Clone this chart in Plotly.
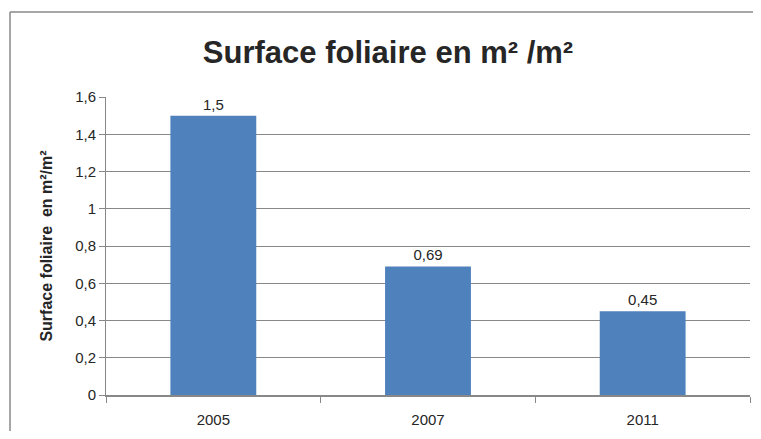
import plotly.graph_objects as go

categories = ["2005", "2007", "2011"]
values = [1.5, 0.69, 0.45]
labels = [str(v).replace(".", ",") for v in values]

# page has 8px body margin; figure sized to fit the 761x439 window
W, H = 745, 423
OFF = 8
L, R, T, B = 106 - OFF, W + OFF - 750, 97 - OFF, H + OFF - 395
pw, ph = W - L - R, H - T - B

fig = go.Figure(go.Bar(
    x=categories, y=values, text=labels, textposition="outside",
    textfont=dict(family="Liberation Sans, Arial", size=15, color="#262626"),
    marker=dict(color="#4F81BD", line=dict(width=0)),
    cliponaxis=False,
))

fig.update_layout(
    width=W, height=H,
    margin=dict(l=L, r=R, t=T, b=B),
    paper_bgcolor="white", plot_bgcolor="white",
    separators=", ",
    bargap=0.6,
    showlegend=False,
    title=dict(text="<b>Surface foliaire en m² /m²</b>", x=(388 - OFF) / W, xanchor="center",
               y=1 - (52 - OFF) / H, yanchor="middle",
               font=dict(family="Liberation Sans Narrow, Arial Narrow, Liberation Sans", size=31, color="#262626")),
    font=dict(family="Liberation Sans, Arial", size=14, color="#404040"),
)

fig.update_yaxes(
    range=[0, 1.6], dtick=0.2, tick0=0,
    showgrid=True, gridcolor="#888888", gridwidth=1,
    showline=True, linecolor="#888888", linewidth=1,
    ticks="outside", ticklen=6, tickcolor="#888888",
    zeroline=False,
    tickfont=dict(size=15, color="#262626"),
    title=dict(text="<b>Surface foliaire  en m²/m²</b>", standoff=18,
               font=dict(size=16, color="#262626")),
)
fig.update_xaxes(
    showline=True, linecolor="#888888", linewidth=1.5,
    ticks="outside", ticklen=6, tickcolor="#888888",
    tickson="boundaries", ticklabelstandoff=10,
    tickfont=dict(size=15, color="#262626"),
)

# outer chart frame: top and left edges
fx0 = (10 - OFF - L) / pw
fy1 = (T + ph - (12 - OFF)) / ph
fig.add_shape(type="line", xref="paper", yref="paper",
              x0=fx0, x1=(W - L) / pw, y0=fy1, y1=fy1,
              line=dict(color="#888888", width=1.5), layer="below")
fig.add_shape(type="line", xref="paper", yref="paper",
              x0=fx0, x1=fx0, y0=fy1, y1=-(B + 5) / ph,
              line=dict(color="#888888", width=1.5), layer="below")

fig.write_html("out.html")
